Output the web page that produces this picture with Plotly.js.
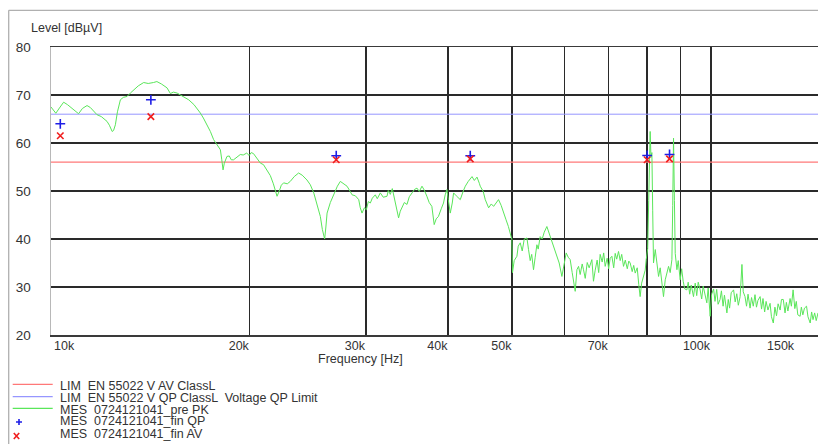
<!DOCTYPE html>
<html>
<head>
<meta charset="utf-8">
<script src="https://cdn.plot.ly/plotly-3.0.1.min.js"></script>
<style>html,body{margin:0;padding:0;background:#fff;}#chart{width:818px;height:444px;}</style>
</head>
<body>
<div id="chart"></div>
<script>
// Preview peak scan (kHz, dBuV)
const pkFreqKHz = [10.00,10.08,10.17,10.30,10.45,10.59,10.77,11.01,11.16,11.34,11.47,11.74,11.92,12.16,12.26,12.38,12.44,12.52,12.61,12.74,12.87,13.04,13.19,13.34,13.56,13.82,14.04,14.30,14.47,14.70,14.99,15.17,15.33,15.53,15.71,15.90,16.17,16.47,16.68,16.84,17.02,17.24,17.44,17.64,17.87,18.06,18.15,18.23,18.31,18.48,18.63,18.76,18.91,19.09,19.22,19.36,19.56,19.80,19.97,20.11,20.27,20.45,20.77,20.99,21.25,21.50,21.73,22.01,22.18,22.34,22.52,22.81,23.05,23.37,23.73,24.03,24.43,24.72,25.02,25.25,25.60,25.78,25.99,26.10,26.21,26.51,26.82,27.17,27.45,27.74,28.10,28.33,28.60,28.93,29.27,29.43,29.61,29.85,30.06,30.27,30.48,30.69,31.01,31.23,31.56,31.89,32.31,32.45,32.68,32.91,33.26,33.45,33.64,33.84,34.04,34.32,34.64,34.92,35.26,35.54,35.87,36.16,36.50,36.79,37.13,37.43,37.78,37.96,38.09,38.36,38.66,39.04,39.35,39.58,39.82,40.01,40.29,40.57,40.76,41.14,41.43,41.72,42.16,42.46,42.90,43.47,43.82,44.23,44.59,44.73,45.20,45.52,46.06,46.49,46.87,47.31,47.68,48.12,48.51,48.95,49.35,49.66,49.95,50.06,50.36,50.84,51.07,51.43,51.79,52.16,52.65,52.94,53.25,53.53,53.87,54.19,54.51,54.76,55.14,55.53,55.92,56.44,56.70,57.10,57.50,57.90,58.45,58.92,59.48,59.75,60.07,60.38,60.81,61.23,61.66,61.98,62.31,62.68,63.04,63.40,63.85,64.14,64.53,64.98,65.42,66.04,66.41,66.81,67.27,67.63,67.98,68.46,68.82,69.18,69.66,70.03,70.40,70.82,71.27,71.64,72.02,72.48,72.90,73.29,73.75,74.21,74.73,75.13,75.49,76.02,76.42,76.83,77.37,77.78,78.16,78.57,79.07,79.55,79.83,80.25,80.53,80.82,80.94,81.17,81.43,81.66,81.89,82.39,82.87,83.35,83.82,84.32,84.80,85.31,85.82,86.31,86.80,87.32,87.57,87.82,88.09,88.34,88.86,89.27,89.88,90.35,90.83,91.31,92.01,92.43,92.91,93.41,94.16,94.72,95.22,95.72,96.37,96.88,97.39,97.90,98.64,99.10,99.45,99.80,100.3,101.0,101.5,102.1,102.6,103.3,103.8,104.4,104.9,105.8,106.3,106.8,107.4,108.3,108.9,109.5,110.1,110.8,111.5,112.0,112.7,113.3,113.9,114.7,115.3,116.0,116.7,117.3,117.9,118.8,119.4,120.0,120.7,121.3,122.1,123.0,123.6,124.4,125.1,125.8,126.5,127.4,128.0,128.8,129.6,130.2,130.9,131.9,132.5,133.3,134.1,134.8,135.5,136.6,137.2,137.9,138.7,139.7,140.4,141.5,142.2,142.9,143.7,144.5,145.4];
const pkLevel = [67.5,66.9,66.2,67.3,68.5,68.0,67.2,66.1,67.2,67.8,67.4,65.9,65.5,64.5,63.7,62.4,62.6,63.8,66.5,69.0,69.5,69.7,70.4,71.1,71.9,72.6,72.4,72.6,72.8,72.3,71.5,70.3,70.6,70.4,70.0,69.7,69.0,68.0,67.1,66.25,65.2,63.8,62.4,60.7,59.5,58.6,56.5,54.4,55.8,57.2,57.3,56.5,56.5,57.0,57.2,57.6,57.5,57.9,57.4,58.0,57.8,57.0,55.8,55.5,54.4,53.2,51.5,48.9,50.0,51.2,51.7,51.5,52.0,53.0,53.75,53.3,52.3,51.3,49.6,47.5,44.7,42.0,40.0,42.5,45.4,47.6,49.2,51.0,52.0,51.6,51.0,50.2,49.2,49.0,48.2,46.5,45.4,46.5,46.1,47.8,47.5,48.5,49.2,48.4,49.6,48.7,48.9,50.1,49.3,50.5,47.5,46.0,44.4,45.8,46.5,47.6,47.2,48.8,49.6,50.3,50.6,49.9,51.0,50.2,48.9,47.6,46.8,44.8,43.0,44.2,44.7,46.3,47.5,49.2,50.3,48.2,45.4,47.5,49.6,49.0,48.6,48.2,50.0,51.0,52.0,53.0,52.2,52.9,51.6,51.0,49.9,48.2,46.5,47.3,46.8,47.7,48.2,47.0,45.4,44.0,42.6,41.2,39.9,33.0,35.5,36.4,38.5,39.2,37.5,40.0,40.2,37.8,35.5,36.8,33.6,36.2,38.8,37.9,40.5,40.0,41.4,42.6,41.8,40.2,39.3,37.8,36.4,35.0,32.2,33.5,35.0,37.1,36.2,35.7,33.0,31.0,29.1,33.6,34.3,32.6,34.8,33.6,31.8,35.1,34.0,35.7,31.2,33.5,35.6,33.0,36.8,35.2,37.1,34.3,36.0,33.8,36.0,36.4,34.0,37.0,35.8,37.4,35.5,36.8,34.3,35.6,33.8,35.4,35.0,33.2,34.5,32.9,34.0,30.5,28.0,30.8,32.2,33.5,35.7,38.0,48.0,58.0,62.4,57.0,58.0,46.0,35.0,37.8,35.3,32.2,34.0,31.5,28.0,31.5,33.0,34.3,33.0,35.7,47.0,61.0,48.0,37.0,33.6,35.5,31.5,33.8,31.2,29.6,29.4,31.0,28.5,30.4,28.0,30.8,28.2,31.0,29.4,27.5,30.2,28.6,26.7,29.8,27.0,23.9,28.5,29.6,27.0,29.5,26.4,27.4,29.2,26.0,28.3,24.6,27.4,25.6,28.8,29.4,26.9,28.6,26.2,28.0,34.7,29.0,28.0,26.0,28.5,25.6,27.8,26.0,28.4,25.8,27.2,28.0,25.4,27.6,24.8,27.0,25.2,26.6,23.8,22.5,25.8,24.0,26.5,25.2,27.4,27.4,24.6,26.8,25.0,27.6,26.0,29.4,25.5,27.0,24.2,23.9,25.8,24.2,25.6,26.0,23.8,22.5,24.8,23.2,24.6,23.0,24.6];

// Final measurements (kHz, dBuV)
const finFreqKHz = [10.33, 14.17, 27.06, 43.2, 80.1, 86.6];
const finQP = [64.0, 69.0, 57.35, 57.35, 57.4, 57.6];
const finAV = [61.5, 65.5, 56.5, 56.7, 56.5, 56.7];

// Limit lines
const limFreq = [10000, 150000];
const limAV = [56, 56];
const limQP = [66, 66];

// Axis ticks
const yTicks = [20, 30, 40, 50, 60, 70, 80];
const xGridVals = [20000, 30000, 40000, 50000, 60000, 70000, 80000, 90000, 100000];
const xGridText = ['20k', '30k', '40k', '50k', '', '70k', '', '', '100k'];

// Legend labels
const legendNames = [
  'LIM  EN 55022 V AV ClassL',
  'LIM  EN 55022 V QP ClassL  Voltage QP Limit',
  'MES  0724121041_pre PK',
  'MES  0724121041_fin QP',
  'MES  0724121041_fin AV'
];

const FONT = 'Liberation Sans, Arial, sans-serif';
const TXT = '#333333';
const RED = 'rgb(255,120,120)';
const BLUE = 'rgb(150,150,255)';
const GREEN = 'rgb(90,230,90)';

const toHz = a => a.map(v => v * 1000);

const traces = [
  {x: limFreq, y: limAV, type: 'scatter', mode: 'lines', line: {color: RED, width: 1.2}, name: legendNames[0], hoverinfo: 'skip'},
  {x: limFreq, y: limQP, type: 'scatter', mode: 'lines', line: {color: BLUE, width: 1}, name: legendNames[1], hoverinfo: 'skip'},
  {x: toHz(pkFreqKHz), y: pkLevel, type: 'scatter', mode: 'lines', line: {color: GREEN, width: 1}, name: legendNames[2]},
  {x: toHz(finFreqKHz), y: finQP, type: 'scatter', mode: 'markers', marker: {symbol: 'cross-thin', size: 7, line: {color: 'rgb(30,30,230)', width: 1.6}}, name: legendNames[3]},
  {x: toHz(finFreqKHz), y: finAV, type: 'scatter', mode: 'markers', marker: {symbol: 'x-thin', size: 6.5, line: {color: 'rgb(240,30,30)', width: 1.6}}, name: legendNames[4]}
];

const PL = 51, PT = 47, PB = 109, W = 818, H = 444;
const PW = W - PL, PH = H - PT - PB;
const px = x => (x - PL) / PW;
const py = y => (H - PB - y) / PH;

const annotations = [
  {text: 'Level [dBµV]', xref: 'paper', yref: 'paper', x: px(29.3), y: py(28.3), xanchor: 'left', yanchor: 'middle', showarrow: false, font: {family: FONT, size: 12.5, color: TXT}},
  {text: 'Frequency [Hz]', xref: 'paper', yref: 'paper', x: px(360.8), y: py(359), xanchor: 'center', yanchor: 'middle', showarrow: false, font: {family: FONT, size: 12.5, color: TXT}},
  {text: '10k', xref: 'paper', yref: 'paper', x: px(52), y: py(346), xanchor: 'left', yanchor: 'middle', showarrow: false, font: {family: FONT, size: 12.5, color: TXT}},
  {text: '150k', xref: 'paper', yref: 'paper', x: px(797), y: py(346), xanchor: 'right', yanchor: 'middle', showarrow: false, font: {family: FONT, size: 12.5, color: TXT}}
];
const rowY = [386.3, 398, 409.7, 421.3, 433.8];
legendNames.forEach((n, i) => {
  annotations.push({text: n, xref: 'paper', yref: 'paper', x: px(58.3), y: py(rowY[i]), xanchor: 'left', yanchor: 'middle', showarrow: false, font: {family: FONT, size: 12.5, color: TXT}});
});

const shapes = [
  // outer frame
  {type: 'line', xref: 'paper', yref: 'paper', x0: px(8.7), x1: px(830), y0: py(10.3), y1: py(10.3), line: {color: '#b0b0b0', width: 1.3}},
  {type: 'line', xref: 'paper', yref: 'paper', x0: px(8.7), x1: px(8.7), y0: py(10.3), y1: py(460), line: {color: '#b0b0b0', width: 1.3}},
  // legend samples
  {type: 'line', xref: 'paper', yref: 'paper', x0: px(12.7), x1: px(52.7), y0: py(384.3), y1: py(384.3), line: {color: RED, width: 1.2}},
  {type: 'line', xref: 'paper', yref: 'paper', x0: px(12.7), x1: px(52.7), y0: py(396.7), y1: py(396.7), line: {color: BLUE, width: 1.2}},
  {type: 'line', xref: 'paper', yref: 'paper', x0: px(12.7), x1: px(52.7), y0: py(408.3), y1: py(408.3), line: {color: GREEN, width: 1.2}},
  {type: 'path', xref: 'paper', yref: 'paper', xsizemode: 'pixel', ysizemode: 'pixel', xanchor: px(19), yanchor: py(422), path: 'M -3,0 L 3,0 M 0,-3 L 0,3', line: {color: 'rgb(30,30,230)', width: 1.6}},
  {type: 'path', xref: 'paper', yref: 'paper', xsizemode: 'pixel', ysizemode: 'pixel', xanchor: px(16.5), yanchor: py(436), path: 'M -2.7,-3 L 2.7,3 M -2.7,3 L 2.7,-3', line: {color: 'rgb(240,30,30)', width: 1.6}}
];

const layout = {
  width: W, height: H,
  margin: {l: PL, r: 0, t: PT, b: PB, pad: 0, autoexpand: false},
  paper_bgcolor: '#ffffff', plot_bgcolor: '#ffffff',
  showlegend: false,
  font: {family: FONT, color: TXT},
  xaxis: {
    type: 'log', range: [4, Math.log10(145400)], autorange: false,
    tickmode: 'array', tickvals: xGridVals, ticktext: xGridText,
    ticklabelposition: 'outside left',
    tickfont: {family: FONT, size: 12.5, color: TXT},
    showgrid: true, gridcolor: '#2a2a2a', gridwidth: 1.5,
    showline: true, linecolor: '#3a3a3a', linewidth: 1.5, mirror: true,
    ticks: '', zeroline: false, automargin: false, ticklabelstandoff: -2
  },
  yaxis: {
    range: [20, 80], autorange: false,
    tickmode: 'array', tickvals: yTicks,
    tickfont: {family: FONT, size: 13.5, color: TXT},
    showgrid: true, gridcolor: '#2a2a2a', gridwidth: 1.5,
    showline: true, linecolor: '#b8b8b8', linewidth: 1.5,
    ticks: '', zeroline: false, automargin: false,
    ticklabelstandoff: 16, ticklabelshift: -2.5
  },
  annotations: annotations,
  shapes: shapes
};

Plotly.newPlot('chart', traces, layout, {staticPlot: true, displayModeBar: false});
</script>
</body>
</html>
